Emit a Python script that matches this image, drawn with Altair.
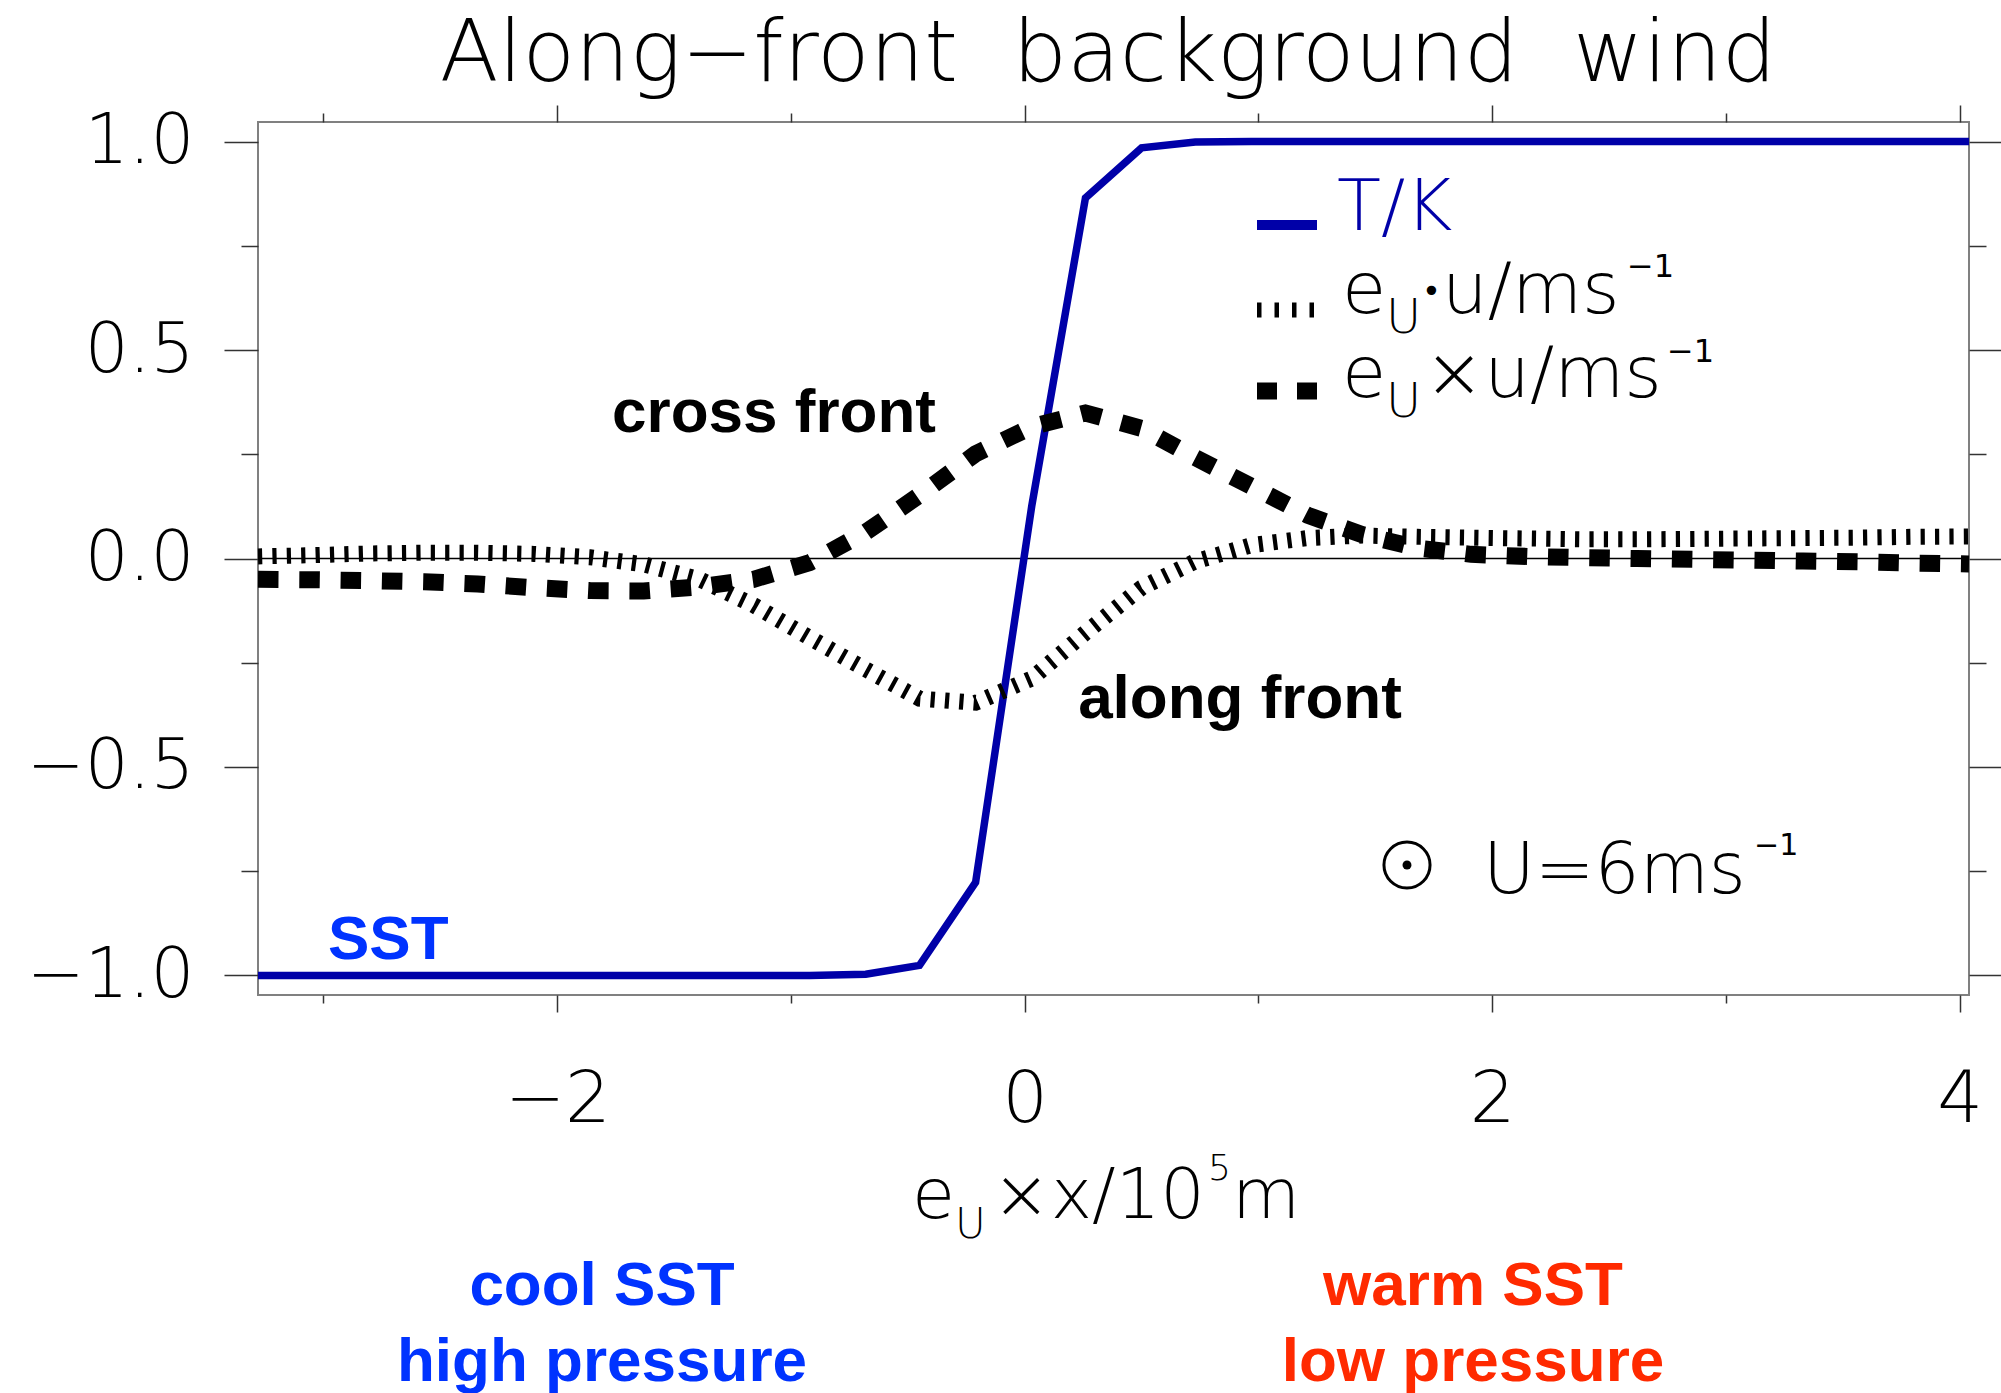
import altair as alt
import pandas as pd

# ---- data: front-normal coordinate (1e5 m) and normalised profiles ----
x_pos = [-3.28, -3.04, -2.81, -2.57, -2.34, -2.10, -1.86, -1.63, -1.39, -1.16,
         -0.92, -0.68, -0.45, -0.21, 0.03, 0.26, 0.50, 0.73, 0.97, 1.21,
         1.44, 1.68, 1.91, 2.15, 2.39, 2.62, 2.86, 3.09, 3.33, 3.57, 3.80, 4.04]

temperature = [-1.0, -1.0, -1.0, -1.0, -1.0, -1.0, -1.0, -1.0, -1.0, -1.0,
               -1.0, -0.997, -0.976, -0.777, 0.125, 0.865, 0.985, 0.999, 1.0, 1.0,
               1.0, 1.0, 1.0, 1.0, 1.0, 1.0, 1.0, 1.0, 1.0, 1.0, 1.0, 1.0]

along_wind = [0.005, 0.008, 0.012, 0.014, 0.014, 0.011, 0.003, -0.014, -0.050, -0.112,
              -0.190, -0.266, -0.336, -0.346, -0.288, -0.178, -0.070, -0.007, 0.032, 0.049,
              0.055, 0.052, 0.050, 0.048, 0.046, 0.046, 0.047, 0.048, 0.049, 0.050, 0.052, 0.053]

cross_wind = [-0.050, -0.051, -0.053, -0.056, -0.061, -0.070, -0.077, -0.078, -0.068, -0.050,
              -0.010, 0.063, 0.152, 0.251, 0.316, 0.349, 0.312, 0.242, 0.173, 0.104,
              0.058, 0.025, 0.010, 0.005, 0.002, 0.000, -0.002, -0.004, -0.006, -0.008, -0.011, -0.013]

x_major = [-2, 0, 2, 4]
x_minor = [-3, -1, 1, 3]
y_major = [-1.0, -0.5, 0.0, 0.5, 1.0]
y_minor = [-0.75, -0.25, 0.25, 0.75]

df = pd.DataFrame({"x": x_pos, "T": temperature, "along": along_wind, "cross": cross_wind})

# ---- layout ----
W, H = 1711, 873          # plot area
OX, OY = 258, 122         # plot origin inside the page
X_DOMAIN = [-3.28, 4.04]
Y_DOMAIN = [-1.047, 1.047]

LIGHT = "DejaVu Sans"
LIGHT_W = 200
BOLD = "Liberation Sans"
NAVY = "#0000A8"
BLUE = "#0033FF"
RED = "#FF2A00"

xs = alt.Scale(domain=X_DOMAIN, nice=False, zero=False)
ys = alt.Scale(domain=Y_DOMAIN, nice=False, zero=False)


def axis(orient, values, size, **kw):
    opts = dict(orient=orient, values=values, tickSize=size, labels=False, domain=False,
                grid=False, title=None, tickColor="#333333", tickWidth=1.5)
    opts.update(kw)
    return alt.Axis(**opts)


x_bottom = axis("bottom", x_major, 17, labels=True, labelFont=LIGHT, labelFontWeight=LIGHT_W,
                labelFontSize=72, labelPadding=52, labelFlush=False, labelOverlap=False,
                labelColor="black")
y_left = axis("left", y_major, 34, labels=True, labelFont=LIGHT, labelFontWeight=LIGHT_W,
              labelFontSize=69, labelPadding=30, labelFlush=False, labelOverlap=False,
              labelColor="black", format=".1f")

zero_df = pd.DataFrame({"x0": [X_DOMAIN[0]], "x1": [X_DOMAIN[1]], "y": [0.0]})
zero_line = alt.Chart(zero_df).mark_rule(color="black", strokeWidth=1.5).encode(
    x=alt.X("x0:Q", scale=xs, axis=axis("top", x_minor, 9)),
    x2="x1:Q",
    y=alt.Y("y:Q", scale=ys, axis=axis("right", y_minor, 17)),
)

t_line = alt.Chart(df).mark_line(color=NAVY, strokeWidth=7.5).encode(
    x=alt.X("x:Q", scale=xs, axis=x_bottom),
    y=alt.Y("T:Q", scale=ys, axis=y_left),
)

along_line = alt.Chart(df).mark_line(color="black", strokeWidth=16, strokeDash=[4.2, 10.2]).encode(
    x=alt.X("x:Q", scale=xs, axis=axis("bottom", x_minor, 8)),
    y=alt.Y("along:Q", scale=ys, axis=axis("left", y_minor, 17)),
)

cross_line = alt.Chart(df).mark_line(color="black", strokeWidth=17, strokeDash=[20.5, 20.8]).encode(
    x=alt.X("x:Q", scale=xs, axis=axis("top", x_major, 17)),
    y=alt.Y("cross:Q", scale=ys, axis=axis("right", y_major, 34)),
)

one_row = pd.DataFrame({"k": [0]})


def text(t, X, Y, size, color="black", font=LIGHT, weight=LIGHT_W, align="left"):
    return alt.Chart(one_row).mark_text(
        text=t, font=font, fontSize=size, fontWeight=weight, color=color,
        align=align, baseline="alphabetic",
    ).encode(x=alt.value(X - OX), y=alt.value(Y - OY))


def sample(X0, X1, Y, width, color, dash=None):
    props = dict(color=color, strokeWidth=width)
    if dash:
        props["strokeDash"] = dash
    return alt.Chart(one_row).mark_rule(**props).encode(
        x=alt.value(X0 - OX), x2=alt.value(X1 - OX), y=alt.value(Y - OY))


layers = [zero_line, t_line, along_line, cross_line]

# title
layers.append(text("Along\u2212front\u00a0 background\u00a0 wind", 1108, 81, 86, align="center"))

# x-axis title  e_U x x / 10^5 m
layers += [
    text("e", 912, 1218, 70),
    text("U", 955, 1238, 42),
    text("\u00d7x/10", 992, 1218, 70),
    text("5", 1208, 1180, 36),
    text("m", 1232, 1218, 70),
]

# legend
layers += [
    sample(1257, 1317, 225, 10, NAVY),
    text("T/K", 1337, 230, 72, color=NAVY),
    sample(1257, 1315, 310, 15, "black", [4.5, 13]),
    text("e", 1342, 313, 72),
    text("U", 1386, 333, 48),
    text("\u2022", 1422, 302, 32, weight=400),
    text("u/ms", 1442, 313, 72),
    text("\u22121", 1627, 277, 32, weight=400),
    sample(1257, 1317, 391, 17, "black", [20, 20]),
    text("e", 1342, 397, 72),
    text("U", 1386, 417, 48),
    text("\u00d7u/ms", 1424, 397, 72),
    text("\u22121", 1667, 362, 32, weight=400),
]

# background wind direction (out of the page)
layers += [
    alt.Chart(one_row).mark_point(shape="circle", filled=False, size=2124, strokeWidth=3,
                                  color="black", opacity=1).encode(
        x=alt.value(1407 - OX), y=alt.value(865 - OY)),
    alt.Chart(one_row).mark_point(shape="circle", filled=True, size=80, color="black",
                                  opacity=1).encode(
        x=alt.value(1407 - OX), y=alt.value(865 - OY)),
    text("U=6ms", 1483, 893, 71),
    text("\u22121", 1754, 855, 30, weight=400),
]

# annotations
layers += [
    text("cross front", 774, 432, 62, font=BOLD, weight="bold", align="center"),
    text("along front", 1240, 718, 62, font=BOLD, weight="bold", align="center"),
    text("SST", 328, 959, 62, color=BLUE, font=BOLD, weight="bold"),
    text("cool SST", 602, 1305, 62, color=BLUE, font=BOLD, weight="bold", align="center"),
    text("high pressure", 602, 1381, 62, color=BLUE, font=BOLD, weight="bold", align="center"),
    text("warm SST", 1473, 1305, 62, color=RED, font=BOLD, weight="bold", align="center"),
    text("low pressure", 1473, 1381, 62, color=RED, font=BOLD, weight="bold", align="center"),
]

chart = alt.layer(*layers).properties(
    width=W, height=H,
    padding={"left": OX, "top": OY, "right": 2001 - OX - W, "bottom": 1393 - OY - H},
    autosize=alt.AutoSizeParams(type="none"),
    background="white",
).resolve_axis(x="independent", y="independent").configure_view(
    stroke="#808080", strokeWidth=2
)

chart.save("out.html", embed_options={"renderer": "svg", "actions": False})
